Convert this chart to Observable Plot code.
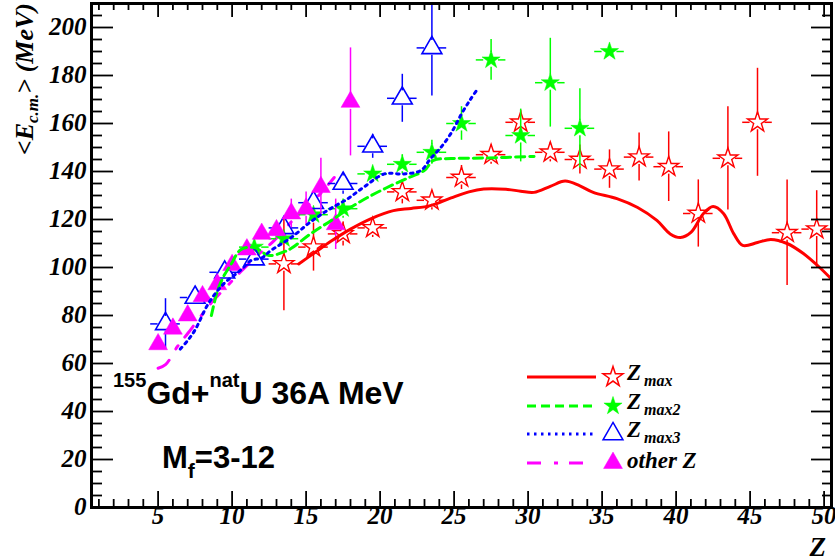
<!DOCTYPE html>
<html><head><meta charset="utf-8">
<script src="https://cdn.jsdelivr.net/npm/d3@7"></script>
<script src="https://cdn.jsdelivr.net/npm/@observablehq/plot@0.6"></script>
<style>body{margin:0;background:#fff}</style>
</head><body><div id="chart"></div>
<script>
// ---------- data ----------
const zmaxZ   = [13.5,15.5,17.5,19.5,21.5,23.5,25.5,27.5,29.5,31.5,33.5,35.5,37.5,39.5,41.5,43.5,45.5,47.5,49.5];
const zmaxE   = [101.5,108.5,114,116.5,131.5,128,137.5,147,160.5,148,145,141,146,142,122.5,145.5,160.5,114.5,116];
const zmaxErr = [19.5,10,5,4,5,4,5,4,5,4,6,8,10,14.5,14,21.5,22.5,22,16];

const zmax2Z   = [11.5,13.5,15.5,17.5,19.5,21.5,23.5,25.5,27.5,29.5,31.5,33.5,35.5];
const zmax2E   = [108.5,112,122,124.5,139,143,148,160,186.5,155,177,158,190];
const zmax2Err = [3,3,3,4,3,4,5,7,8.5,11,18.5,16.5,3];

const zmax3Z   = [5.5,7.5,9.5,11.5,13.5,15.5,17.5,19.5,21.5,23.5];
const zmax3E   = [76.5,87.5,98,103.5,116.5,127,135,150.5,170.5,191.5];
const zmax3Err = [10.5,3,3,3,3,3,4.5,5,10,20];

const otherZ   = [5,6,7,8,9,10,11,12,13,14,15,16,17,18];
const otherE   = [68,74.5,80,88,93,101,107.5,114,115.5,122.5,124.5,133.5,118,169];
const otherErr = [2,2,2,2,2,2,2,3,3,6,7,12,10.5,22.5];

const zmaxCurveZ = [14.5,15.5,16.7,18,19.4,20.9,22.1,23.4,24.8,26,27,28.5,29.5,30.4,31.5,32.5,33.5,34.4,36,37.4,38.7,39.6,40.3,41,41.85,42.5,43.2,43.9,44.5,45.5,46.4,47.5,48.6,49.7,50.6];
const zmaxCurveE = [101.5,105.8,111,116,120.4,123.7,124.6,125.8,129,131.5,132.7,132.6,131.8,131.3,133.8,136,134,131.3,128.7,125,119.6,114,112.5,114.6,122.5,125.4,122.5,114,109.2,110.4,111.7,110,105.8,100,94.5];

const zmax2CurveZ = [8.6,9.0,9.4,9.9,10.6,11.5,12.5,13.5,14,15.3,16.7,18,19.4,20.7,22,23,23.6,24.8,27,30.4];
const zmax2CurveE = [80,90,96,101,107.5,108.3,105,106.5,108,114,119.6,125,130,134,137.6,140.5,144.6,145.4,145.6,146.3];

const zmax3CurveZ = [6.5,7,7.5,8.4,9.4,10.6,11.3,12,12.6,14,15.3,16.5,17.8,18.9,20.3,21.6,22.75,23.4,24.1,24.8,25.5,26.1,26.6];
const zmax3CurveE = [66,69.6,74,85,93,99,103,104,107,112.5,119,124,128.6,133.5,139,139,140.4,145.3,150,156,164,170,174.5];

const otherCurveZ = [5,5.5,6.3,7,7.8,8.7,9.7,10.7,11.7,12.8,14,15,16,16.9];
const otherCurveE = [58,59.5,67,72.5,79,86,92.5,99,105,111,119,125,131,137.5];

const xMajor = [5,10,15,20,25,30,35,40,45,50];
const yMajor = [0,20,40,60,80,100,120,140,160,180,200];
const legendLabels = [["Z","max"],["Z","max2"],["Z","max3"],["other Z",""]];

// ---------- layout ----------
const W = 835, H = 560, mL = 91, mR = 4, mT = 3, mB = 53;
const fw = W - mL - mR, fh = H - mT - mB;
const RED = "#ff0000", GREEN = "#00ff00", BLUE = "#0000ff", MAG = "#ff00ff";
const serif = "'Liberation Serif','DejaVu Serif',serif";
const sans = "'Liberation Sans',Arial,sans-serif";
const DOTS = "2.5,4.5", DASH = "9,5", DASHDOT = "14,13,4,11";

const xMinor = d3.range(1, 51).filter(d => d % 5 !== 0);
const yMinor = d3.range(0, 211, 5).filter(d => d % 20 !== 0);

const pts = (Z, E, err) => Z.map((z, i) => ({z, e: E[i], err: err[i]}));
const curve = (Z, E) => Z.map((z, i) => ({z, e: E[i]}));
const gapY = 3.1, gapX = 0.5;
function vbars(P) {
  const out = [];
  for (const p of P) if (p.err > gapY) {
    out.push({z: p.z, y1: p.e + gapY, y2: p.e + p.err});
    out.push({z: p.z, y1: p.e - p.err, y2: p.e - gapY});
  }
  return out;
}
function hbars(P, xe) {
  const out = [];
  if (xe > gapX) for (const p of P) {
    out.push({e: p.e, x1: p.z - xe, x2: p.z - gapX});
    out.push({e: p.e, x1: p.z + gapX, x2: p.z + xe});
  }
  return out;
}
const S1 = pts(zmaxZ, zmaxE, zmaxErr);
const S2 = pts(zmax2Z, zmax2E, zmax2Err);
const S3 = pts(zmax3Z, zmax3E, zmax3Err);
const S4 = pts(otherZ, otherE, otherErr);

function errMarks(P, xe, color) {
  return [
    Plot.ruleX(vbars(P), {x: "z", y1: "y1", y2: "y2", stroke: color, strokeWidth: 1.5, clip: true}),
    Plot.ruleY(hbars(P, xe), {y: "e", x1: "x1", x2: "x2", stroke: color, strokeWidth: 1.5, clip: true})
  ];
}

const chart = Plot.plot({
  width: W, height: H,
  marginLeft: mL, marginRight: mR, marginTop: mT, marginBottom: mB,
  x: {domain: [0.5, 50.5], axis: null},
  y: {domain: [0, 210], axis: null},
  marks: [
    Plot.line(curve(otherCurveZ, otherCurveE), {x: "z", y: "e", stroke: MAG, strokeWidth: 3, strokeDasharray: DASHDOT, curve: "catmull-rom", clip: true}),
    ...errMarks(S1, 1, RED),
    Plot.dot(S1, {x: "z", y: "e", symbol: "star", r: 6.3, fill: "none", stroke: RED, strokeWidth: 1.4, clip: true}),
    ...errMarks(S2, 1, GREEN),
    Plot.dot(S2, {x: "z", y: "e", symbol: "star", r: 5.7, fill: GREEN, stroke: GREEN, strokeWidth: 0.5, clip: true}),
    ...errMarks(S3, 1, BLUE),
    Plot.dot(S3, {x: "z", y: "e", symbol: "triangle", r: 7.4, fill: "none", stroke: BLUE, strokeWidth: 1.6, clip: true}),
    ...errMarks(S4, 0.5, MAG),
    Plot.dot(S4, {x: "z", y: "e", symbol: "triangle", r: 7, fill: MAG, stroke: MAG, strokeWidth: 0.5, clip: true}),
    Plot.line(curve(zmaxCurveZ, zmaxCurveE), {x: "z", y: "e", stroke: RED, strokeWidth: 3, curve: "catmull-rom", clip: true}),
    Plot.line(curve(zmax2CurveZ, zmax2CurveE), {x: "z", y: "e", stroke: GREEN, strokeWidth: 3, strokeDasharray: DASH, curve: "catmull-rom", clip: true}),
    Plot.line(curve(zmax3CurveZ, zmax3CurveE), {x: "z", y: "e", stroke: BLUE, strokeWidth: 3, strokeDasharray: DOTS, curve: "catmull-rom", clip: true}),
    Plot.ruleX(xMajor, {x: d => d, insetTop: fh - 16, stroke: "#000", strokeWidth: 1.8}),
    Plot.ruleX(xMinor, {x: d => d, insetTop: fh - 8, stroke: "#000", strokeWidth: 1.8}),
    Plot.ruleX(xMajor, {x: d => d, insetBottom: fh - 14, stroke: "#000", strokeWidth: 1.8}),
    Plot.ruleX(xMinor, {x: d => d, insetBottom: fh - 7, stroke: "#000", strokeWidth: 1.8}),
    Plot.ruleY(yMajor, {y: d => d, insetRight: fw - 22, stroke: "#000", strokeWidth: 1.8}),
    Plot.ruleY(yMinor, {y: d => d, insetRight: fw - 11, stroke: "#000", strokeWidth: 1.8}),
    Plot.ruleY(yMajor, {y: d => d, insetLeft: fw - 20, stroke: "#000", strokeWidth: 1.8}),
    Plot.ruleY(yMinor, {y: d => d, insetLeft: fw - 9, stroke: "#000", strokeWidth: 1.8}),
    Plot.frame({stroke: "#000", strokeWidth: 3}),
    Plot.text(xMajor, {x: d => d, text: d => String(d), frameAnchor: "bottom", dy: 16, fontSize: 25, fontFamily: serif, fontWeight: "bold", fontStyle: "italic", fill: "#000"}),
    Plot.text(yMajor, {y: d => d, text: d => String(d), frameAnchor: "left", textAnchor: "end", dx: -5, dy: -1, fontSize: 25, fontFamily: serif, fontWeight: "bold", fontStyle: "italic", fill: "#000"})
  ]
});
document.getElementById("chart").appendChild(chart);

// ---------- overlays: titles, annotations, legend ----------
const svg = d3.select(chart);
const g = svg.append("g").attr("text-anchor", "start").attr("fill", "#000");

g.append("text").attr("x", 826).attr("y", 556).attr("text-anchor", "end")
  .attr("font-family", serif).attr("font-weight", "bold").attr("font-style", "italic")
  .attr("font-size", 27).text("Z");

const yt = g.append("text").attr("transform", "translate(33,3) rotate(-90)").attr("text-anchor", "end")
  .attr("font-family", serif).attr("font-weight", "bold").attr("font-style", "italic").attr("font-size", 26);
yt.append("tspan").text("<E");
yt.append("tspan").attr("font-size", 17).attr("dy", 5).text("c.m.");
yt.append("tspan").attr("dy", -5).text("> (MeV)");

const t1 = g.append("text").attr("x", 113).attr("y", 404).attr("text-anchor", "start")
  .attr("font-family", sans).attr("font-weight", "bold").attr("font-size", 32);
t1.append("tspan").attr("font-size", 20).attr("dy", -17).text("155");
t1.append("tspan").attr("dy", 17).text("Gd+");
t1.append("tspan").attr("font-size", 20).attr("dy", -17).text("nat");
t1.append("tspan").attr("dy", 17).text("U 36A MeV");

const t2 = g.append("text").attr("x", 162).attr("y", 468).attr("text-anchor", "start")
  .attr("font-family", sans).attr("font-weight", "bold").attr("font-size", 31);
t2.append("tspan").text("M");
t2.append("tspan").attr("font-size", 21).attr("dy", 10).text("f");
t2.append("tspan").attr("dy", -10).text("=3-12");

const legendStyle = [
  {color: RED, dash: null, sym: d3.symbolStar, r: 6.3, fill: "none"},
  {color: GREEN, dash: DASH, sym: d3.symbolStar, r: 5.7, fill: GREEN},
  {color: BLUE, dash: DOTS, sym: d3.symbolTriangle, r: 7.4, fill: "none"},
  {color: MAG, dash: DASHDOT, sym: d3.symbolTriangle, r: 7, fill: MAG}
];
const rowY = [377, 406, 434, 463];
legendLabels.forEach((lab, i) => {
  const s = legendStyle[i], y = rowY[i];
  g.append("line").attr("x1", 527).attr("x2", 596).attr("y1", y).attr("y2", y)
    .attr("stroke", s.color).attr("stroke-width", 3).attr("stroke-dasharray", s.dash);
  g.append("path").attr("transform", `translate(613,${y})`)
    .attr("d", d3.symbol(s.sym, Math.PI * s.r * s.r)())
    .attr("fill", s.fill).attr("stroke", s.color).attr("stroke-width", s.fill === "none" ? 1.5 : 0.5);
  const tx = g.append("text").attr("x", 627).attr("y", y + (lab[1] ? 3 : 5)).attr("text-anchor", "start")
    .attr("font-family", serif).attr("font-weight", "bold").attr("font-style", "italic").attr("font-size", 23);
  tx.append("tspan").text(lab[0]);
  if (lab[1]) tx.append("tspan").attr("font-size", 16).attr("dx", 3).attr("dy", 6).text(lab[1]);
});
</script>
</body></html>
